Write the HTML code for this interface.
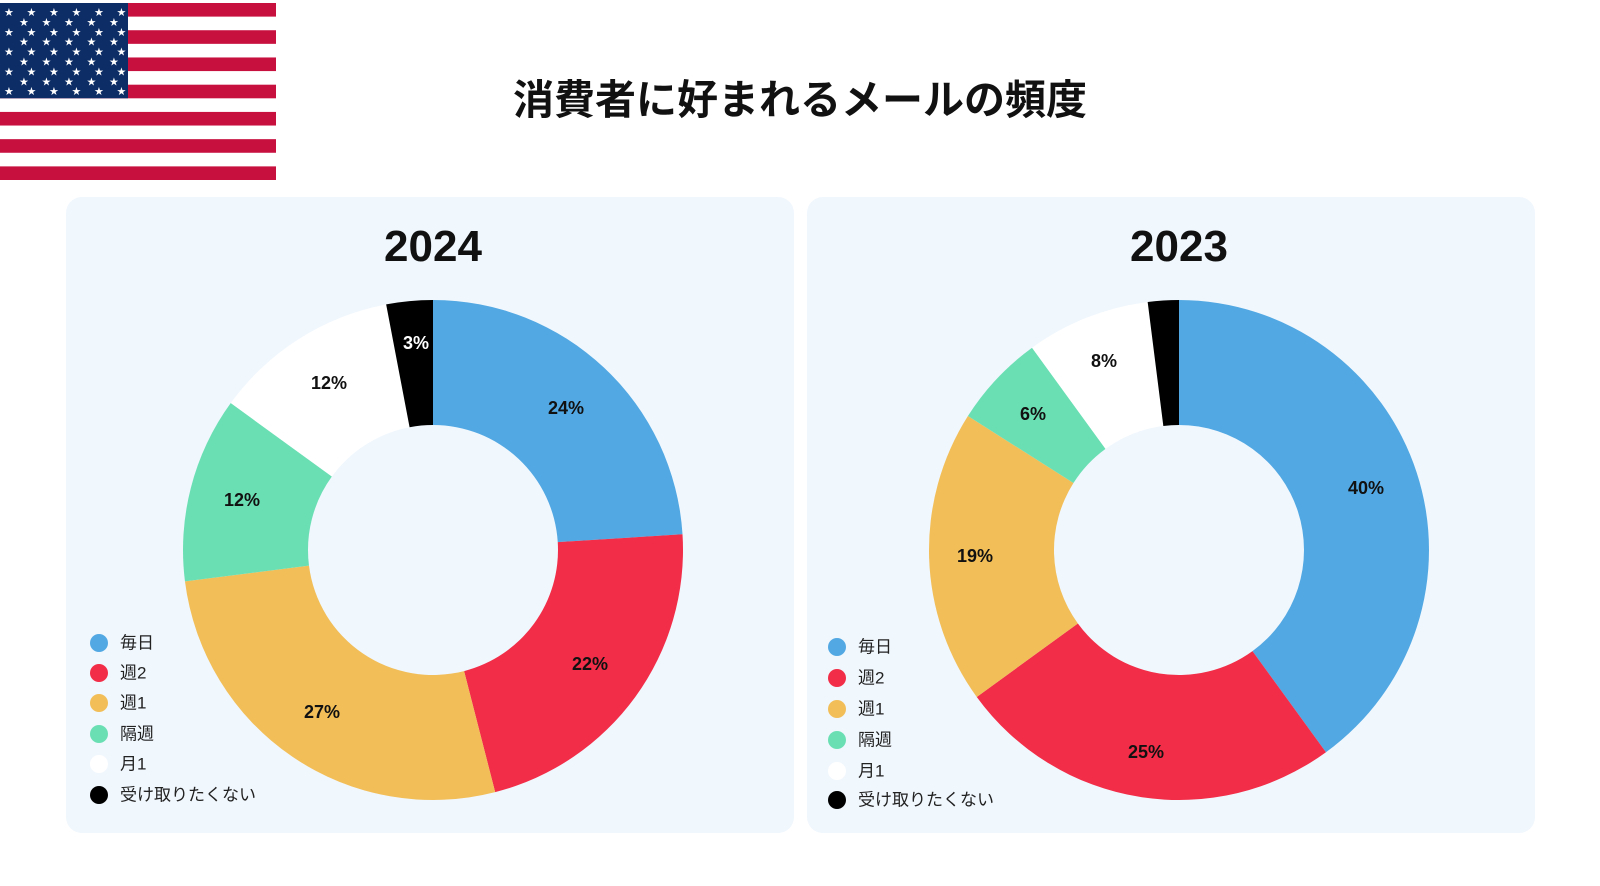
<!DOCTYPE html>
<html><head><meta charset="utf-8"><style>
html,body{margin:0;padding:0;background:#fff;}
body{width:1600px;height:886px;overflow:hidden;position:relative;font-family:"Liberation Sans","Noto Sans CJK JP",sans-serif;}
svg{position:absolute;left:0;top:0;}
</style></head><body>
<svg width="1600" height="886" viewBox="0 0 1600 886" xmlns="http://www.w3.org/2000/svg">
<g id="flag">
<rect x="0" y="3" width="276" height="177" fill="#fff"/>
</g>
<text x="800" y="114" text-anchor="middle" font-family="Liberation Sans, Noto Sans CJK JP, sans-serif" font-weight="bold" font-size="41" fill="#111">消費者に好まれるメールの頻度</text>
<rect x="66" y="197" width="728" height="636" rx="16" fill="#f0f7fd"/>
<rect x="807" y="197" width="728" height="636" rx="16" fill="#f0f7fd"/>
<text x="433" y="261" text-anchor="middle" font-family="Liberation Sans, Noto Sans CJK JP, sans-serif" font-weight="bold" font-size="44" fill="#111">2024</text>
<text x="1179" y="261" text-anchor="middle" font-family="Liberation Sans, Noto Sans CJK JP, sans-serif" font-weight="bold" font-size="44" fill="#111">2023</text>
<g id="d1"></g><g id="d2"></g>
<g font-family="Liberation Sans, sans-serif" font-weight="bold" font-size="18" fill="#111" text-anchor="middle" dominant-baseline="central">
<text x="566" y="408">24%</text>
<text x="590" y="664">22%</text>
<text x="322" y="712">27%</text>
<text x="242" y="500">12%</text>
<text x="329" y="383">12%</text>
<text x="416" y="343" fill="#fff">3%</text>
<text x="1366" y="488">40%</text>
<text x="1146" y="752">25%</text>
<text x="975" y="556">19%</text>
<text x="1033" y="414">6%</text>
<text x="1104" y="361">8%</text>
</g>
<g font-family="Liberation Sans, Noto Sans CJK JP, sans-serif" font-size="17" fill="#222" dominant-baseline="central">
<circle cx="99" cy="643" r="9" fill="#52a8e3"/><text x="120" y="643">毎日</text>
<circle cx="99" cy="673" r="9" fill="#f22d47"/><text x="120" y="673">週2</text>
<circle cx="99" cy="703" r="9" fill="#f2be58"/><text x="120" y="703">週1</text>
<circle cx="99" cy="734" r="9" fill="#6bdfb4"/><text x="120" y="734">隔週</text>
<circle cx="99" cy="764" r="9" fill="#fff"/><text x="120" y="764">月1</text>
<circle cx="99" cy="795" r="9" fill="#000"/><text x="120" y="795">受け取りたくない</text>
<circle cx="837" cy="647" r="9" fill="#52a8e3"/><text x="858" y="647">毎日</text>
<circle cx="837" cy="678" r="9" fill="#f22d47"/><text x="858" y="678">週2</text>
<circle cx="837" cy="709" r="9" fill="#f2be58"/><text x="858" y="709">週1</text>
<circle cx="837" cy="740" r="9" fill="#6bdfb4"/><text x="858" y="740">隔週</text>
<circle cx="837" cy="771" r="9" fill="#fff"/><text x="858" y="771">月1</text>
<circle cx="837" cy="800" r="9" fill="#000"/><text x="858" y="800">受け取りたくない</text>
</g>
</svg>
<script>
var NS="http://www.w3.org/2000/svg";
var cols=["#52a8e3","#f22d47","#f2be58","#6bdfb4","#ffffff","#000000"];
function donut(id,cx,cy,vals){
 var g=document.getElementById(id),a=0,R=250,r=125;
 vals.forEach(function(v,i){
  var a0=a*3.6*Math.PI/180;a+=v;var a1=a*3.6*Math.PI/180;
  var lg=(a1-a0)>Math.PI?1:0;
  function p(rad,t){return (cx+rad*Math.sin(t)).toFixed(2)+","+(cy-rad*Math.cos(t)).toFixed(2);}
  var d="M"+p(R,a0)+"A"+R+","+R+" 0 "+lg+" 1 "+p(R,a1)+"L"+p(r,a1)+"A"+r+","+r+" 0 "+lg+" 0 "+p(r,a0)+"Z";
  var e=document.createElementNS(NS,"path");e.setAttribute("d",d);e.setAttribute("fill",cols[i]);g.appendChild(e);
 });
}
donut("d1",433,550,[24,22,27,12,12,3]);
donut("d2",1179,550,[40,25,19,6,8,2]);
var f=document.getElementById("flag"),sh=177/13;
for(var i=0;i<13;i+=2){var s=document.createElementNS(NS,"rect");s.setAttribute("x",0);s.setAttribute("y",3+i*sh);s.setAttribute("width",276);s.setAttribute("height",sh);s.setAttribute("fill","#c8103f");f.appendChild(s);}
var c=document.createElementNS(NS,"rect");c.setAttribute("x",0);c.setAttribute("y",3);c.setAttribute("width",128);c.setAttribute("height",sh*7);c.setAttribute("fill","#0d2d66");f.appendChild(c);
for(var row=0;row<9;row++){var n=row%2?5:6;for(var k=0;k<n;k++){var t=document.createElementNS(NS,"text");t.setAttribute("x",(row%2?19:4)+k*22.5);t.setAttribute("y",3+9+row*9.9+4);t.setAttribute("fill","#fff");t.setAttribute("font-size","11");t.setAttribute("font-family","DejaVu Sans, sans-serif");t.textContent="★";f.appendChild(t);}}
</script>
</body></html>
